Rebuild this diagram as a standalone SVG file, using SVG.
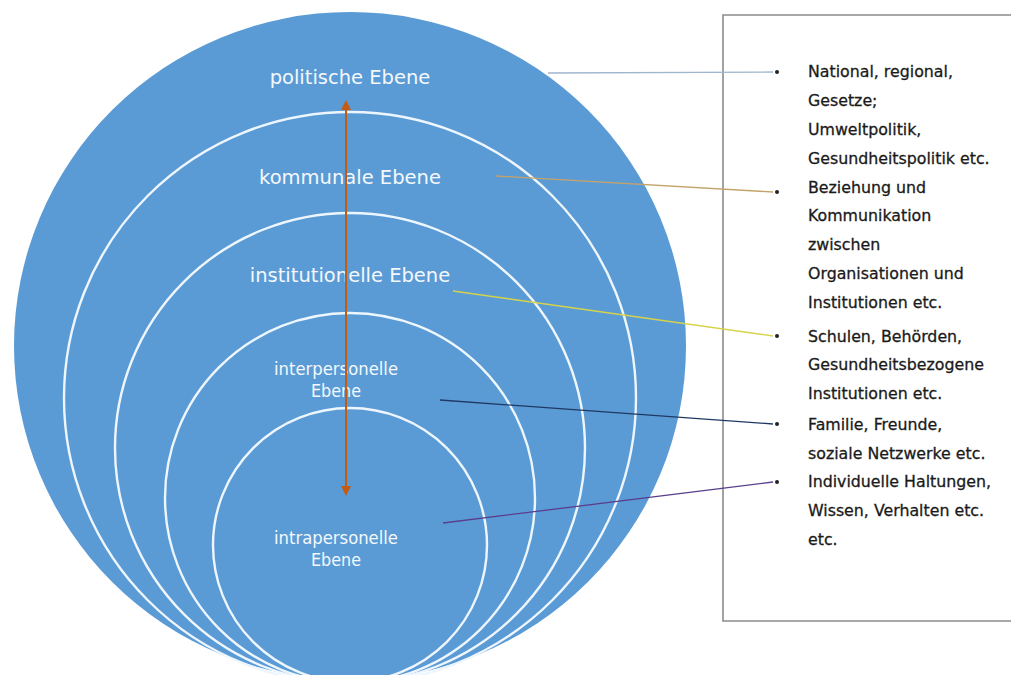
<svg xmlns="http://www.w3.org/2000/svg" width="1011" height="675" viewBox="0 0 1011 675">
  <style>
    .ring { fill: none; stroke: #eef6fd; stroke-width: 2.4; }
    .lvl { font-family: "DejaVu Sans", Verdana, sans-serif; font-size: 19.5px; fill: #f4f8fc; text-anchor: middle; }
    .lvl.small { font-size: 18.5px; }
    .item { font-family: "DejaVu Sans", Verdana, sans-serif; font-size: 15.8px; fill: #1a1a1a; stroke: #1a1a1a; stroke-width: 0.3; }
    .link { fill: none; stroke-width: 1.3; }
    .dot { fill: #222222; }
  </style>
  <defs>
    <marker id="head" viewBox="0 0 10 10" refX="8" refY="5" markerWidth="5" markerHeight="5" orient="auto-start-reverse" markerUnits="strokeWidth">
      <path d="M0,0 L10,5 L0,10 z" fill="#c55a11"/>
    </marker>
  </defs>

  <rect width="1011" height="675" fill="#ffffff"/>

  <!-- nested levels -->
  <g id="politische">
    <ellipse cx="350" cy="346" rx="336" ry="334" fill="#5b9bd5"/>
    <text class="lvl" x="350" y="84">politische Ebene</text>
  </g>
  <g id="kommunale">
    <circle class="ring" cx="350" cy="398" r="286"/>
    <text class="lvl" x="350" y="184">kommunale Ebene</text>
  </g>
  <g id="institutionelle">
    <circle class="ring" cx="350" cy="448" r="235"/>
    <text class="lvl" x="350" y="282">institutionelle Ebene</text>
  </g>
  <g id="interpersonelle">
    <circle class="ring" cx="350" cy="498" r="185"/>
    <text class="lvl small" x="336" y="375" textLength="124" lengthAdjust="spacingAndGlyphs">interpersonelle</text>
    <text class="lvl small" x="336" y="397" textLength="50" lengthAdjust="spacingAndGlyphs">Ebene</text>
  </g>
  <g id="intrapersonelle">
    <circle class="ring" cx="350" cy="545" r="137"/>
    <text class="lvl small" x="336" y="544" textLength="124" lengthAdjust="spacingAndGlyphs">intrapersonelle</text>
    <text class="lvl small" x="336" y="566" textLength="50" lengthAdjust="spacingAndGlyphs">Ebene</text>
  </g>

  <!-- legend panel -->
  <g id="panel">
    <path d="M1011,15 H723 V621 H1011" fill="#ffffff" stroke="#8c8c8c" stroke-width="1.6"/>
    <circle class="dot" cx="777" cy="72" r="2"/>
    <circle class="dot" cx="777" cy="192" r="2"/>
    <circle class="dot" cx="777" cy="336" r="2"/>
    <circle class="dot" cx="777" cy="424" r="2"/>
    <circle class="dot" cx="777" cy="482" r="2"/>
    <text class="item" x="808" y="77">National, regional,</text>
    <text class="item" x="808" y="106">Gesetze;</text>
    <text class="item" x="808" y="135">Umweltpolitik,</text>
    <text class="item" x="808" y="164">Gesundheitspolitik etc.</text>
    <text class="item" x="808" y="193">Beziehung und</text>
    <text class="item" x="808" y="221">Kommunikation</text>
    <text class="item" x="808" y="250">zwischen</text>
    <text class="item" x="808" y="279">Organisationen und</text>
    <text class="item" x="808" y="308">Institutionen etc.</text>
    <text class="item" x="808" y="342">Schulen, Behörden,</text>
    <text class="item" x="808" y="370">Gesundheitsbezogene</text>
    <text class="item" x="808" y="399">Institutionen etc.</text>
    <text class="item" x="808" y="430">Familie, Freunde,</text>
    <text class="item" x="808" y="459">soziale Netzwerke etc.</text>
    <text class="item" x="808" y="487">Individuelle Haltungen,</text>
    <text class="item" x="808" y="516">Wissen, Verhalten etc.</text>
    <text class="item" x="808" y="545">etc.</text>
  </g>

  <!-- connectors -->
  <g id="connectors">
    <line x1="346" y1="494" x2="346" y2="102" stroke="#c55a11" stroke-width="2" marker-start="url(#head)" marker-end="url(#head)"/>
    <line class="link" x1="548" y1="73" x2="773" y2="72" stroke="#9fb6cc"/>
    <line class="link" x1="496" y1="176" x2="773" y2="192" stroke="#c4a36a"/>
    <line class="link" x1="453" y1="291" x2="773" y2="336" stroke="#d6d34a"/>
    <line class="link" x1="440" y1="400" x2="773" y2="424" stroke="#1f3864"/>
    <line class="link" x1="443" y1="523" x2="773" y2="482" stroke="#5a3e8c"/>
  </g>
</svg>
